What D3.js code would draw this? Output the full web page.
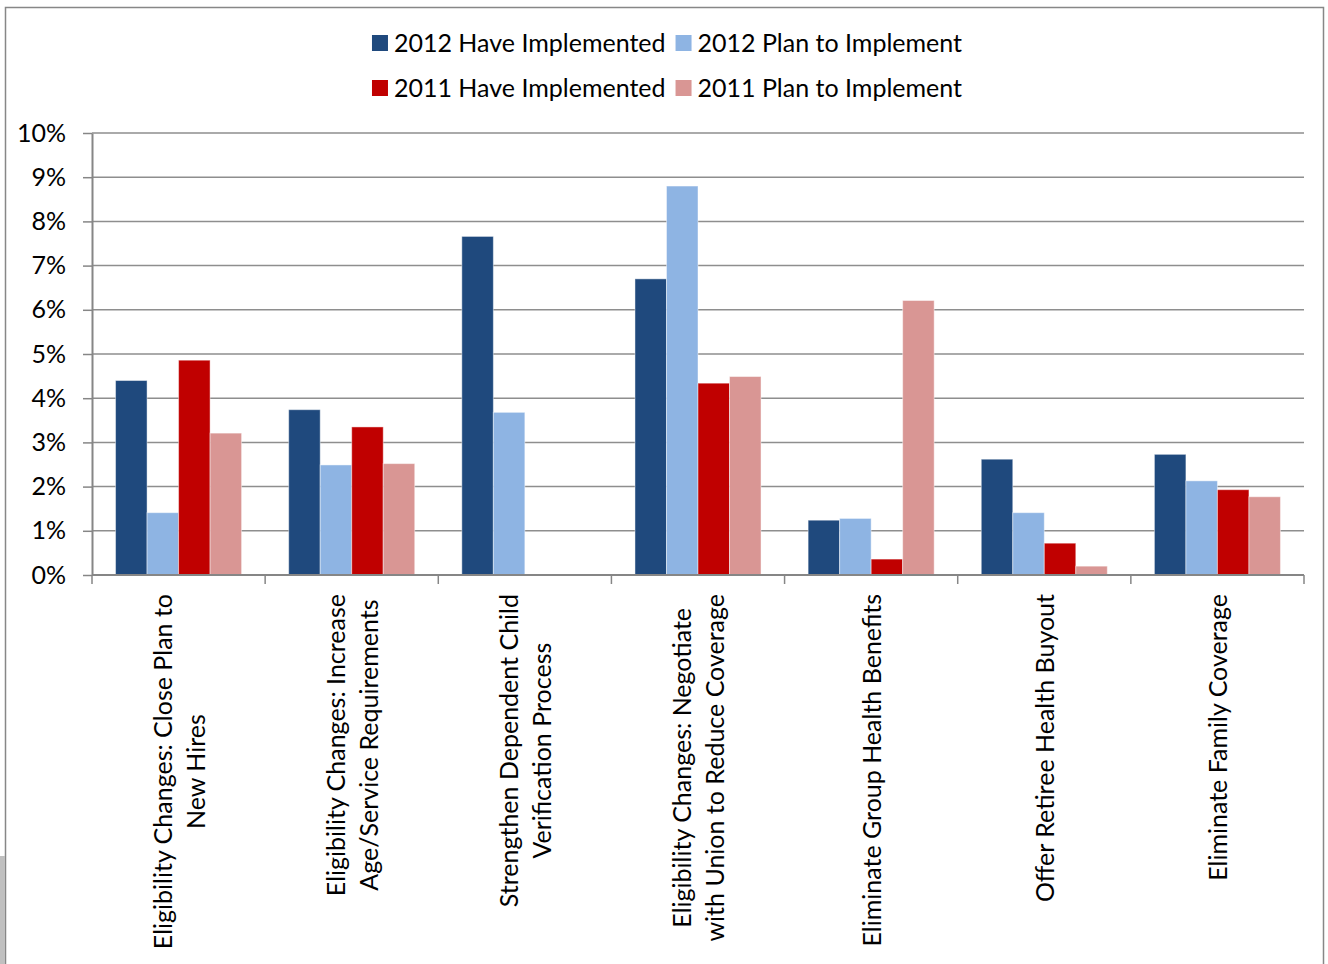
<!DOCTYPE html>
<html>
<head>
<meta charset="utf-8">
<script src="https://cdn.jsdelivr.net/npm/d3@7"></script>
<style>
  html, body { margin: 0; padding: 0; background: #fff; }
  svg { display: block; font-family: Lato, "Open Sans", sans-serif; }
</style>
</head>
<body>
<div id="graphicContainer"></div>
<script>

// categories, one array of lines per label
const categories = [
  ["Eligibility Changes: Close Plan to", "New Hires"],
  ["Eligibility Changes: Increase", "Age/Service Requirements"],
  ["Strengthen Dependent Child", "Verification Process"],
  ["Eligibility Changes: Negotiate", "with Union to Reduce Coverage"],
  ["Eliminate Group Health Benefits"],
  ["Offer Retiree Health  Buyout"],
  ["Eliminate Family Coverage"]
]

const seriesNames = ["2012 Have Implemented", "2012 Plan to Implement", "2011 Have Implemented", "2011 Plan to Implement"]
const seriesColors = ["#1f497d", "#8eb4e3", "#c00000", "#d99694"]

// values in percent
const have2012 = [4.40, 3.74, 7.66, 6.70, 1.24, 2.62, 2.73]
const plan2012 = [1.41, 2.49, 3.68, 8.80, 1.28, 1.41, 2.13]
const have2011 = [4.86, 3.35, 0, 4.34, 0.36, 0.72, 1.93]
const plan2011 = [3.21, 2.52, 0, 4.49, 6.21, 0.20, 1.77]

const yTicks = [0, 1, 2, 3, 4, 5, 6, 7, 8, 9, 10]

const seriesValues = [have2012, plan2012, have2011, plan2011]

const width = 1328
const height = 964
const fontSize = 25

const plot = { left: 92, right: 1304, top: 133, bottom: 575 }

const svg = d3.select("#graphicContainer")
  .append("svg")
  .attr("width", width)
  .attr("height", height)

svg.append("rect")
  .attr("width", width)
  .attr("height", height)
  .attr("fill", "#fff")

// frame
svg.append("rect")
  .attr("x", 5.5)
  .attr("y", 7.5)
  .attr("width", 1318)
  .attr("height", 1000)
  .attr("fill", "none")
  .attr("stroke", "#878787")
  .attr("stroke-width", 1.5)

svg.append("rect")
  .attr("x", 0)
  .attr("y", 856)
  .attr("width", 5)
  .attr("height", 108)
  .attr("fill", "#c0c0c0")

const catIdx = d3.range(categories.length)

const x0 = d3.scaleBand()
  .domain(catIdx)
  .range([plot.left, plot.right])
  .paddingInner(0)
  .paddingOuter(0)

const groupPad = x0.bandwidth() * 0.136

const x1 = d3.scaleBand()
  .domain(d3.range(seriesNames.length))
  .range([groupPad, x0.bandwidth() - groupPad])

const y = d3.scaleLinear()
  .domain([0, 10])
  .range([plot.bottom, plot.top])

// gridlines
svg.append("g")
  .selectAll("line")
  .data(yTicks.filter(d => d > 0))
  .enter()
  .append("line")
  .attr("x1", plot.left)
  .attr("x2", plot.right)
  .attr("y1", d => y(d))
  .attr("y2", d => y(d))
  .attr("stroke", "#8e8e8e")
  .attr("stroke-width", 1.5)

// bars
const table = []
catIdx.forEach(c => {
  seriesValues.forEach((vals, s) => {
    table.push({ c: c, s: s, v: vals[c] })
  })
})

svg.append("g")
  .selectAll("rect")
  .data(table.filter(d => d.v > 0))
  .enter()
  .append("rect")
  .attr("x", d => x0(d.c) + x1(d.s))
  .attr("width", x1.bandwidth())
  .attr("y", d => y(d.v))
  .attr("height", d => y(0) - y(d.v))
  .attr("fill", d => seriesColors[d.s])
  .attr("stroke", "#fff")
  .attr("stroke-opacity", 0.45)
  .attr("stroke-width", 1)

// y axis
const yAxis = svg.append("g")
  .attr("transform", `translate(${plot.left},0)`)
  .call(d3.axisLeft(y)
    .tickValues(yTicks)
    .tickSize(9)
    .tickSizeOuter(0)
    .tickPadding(17)
    .tickFormat(d => d + "%"))

yAxis.select(".domain").attr("stroke", "#868686").attr("stroke-width", 2)
yAxis.selectAll(".tick line").attr("stroke", "#868686").attr("stroke-width", 1.5)
yAxis.selectAll(".tick text")
  .attr("fill", "#000")
  .style("font-size", fontSize + "px")
  .style("font-family", "Lato, sans-serif")

// x axis with ticks on category boundaries
const bounds = d3.range(categories.length + 1).map(i => plot.left + i * x0.bandwidth())

const xAxis = svg.append("g")
xAxis.append("line")
  .attr("x1", plot.left)
  .attr("x2", plot.right)
  .attr("y1", plot.bottom)
  .attr("y2", plot.bottom)
  .attr("stroke", "#868686")
  .attr("stroke-width", 2)

xAxis.selectAll(".xtick")
  .data(bounds)
  .enter()
  .append("line")
  .attr("class", "xtick")
  .attr("x1", d => d)
  .attr("x2", d => d)
  .attr("y1", plot.bottom)
  .attr("y2", plot.bottom + 9)
  .attr("stroke", "#868686")
  .attr("stroke-width", 1.5)

// category labels, rotated, lines centred on each other
const lineGap = 33
const labelTop = 594

catIdx.forEach(c => {
  const lines = categories[c]
  const cx = x0(c) + x0.bandwidth() / 2 + 1
  const g = svg.append("g")

  const texts = lines.map((ln, i) => {
    const off = (i - (lines.length - 1) / 2) * lineGap
    return g.append("text")
      .attr("x", 0)
      .attr("y", 0)
      .attr("dy", "0.35em")
      .attr("text-anchor", "middle")
      .style("font-size", fontSize + "px")
      .attr("fill", "#000")
      .attr("data-off", off)
      .text(ln)
  })

  const maxW = d3.max(texts, t => t.node().getComputedTextLength())
  const cy = labelTop + maxW / 2

  texts.forEach(t => {
    const off = +t.attr("data-off")
    t.attr("transform", `translate(${cx + off},${cy}) rotate(-90)`)
  })
})

// legend, two rows
const legend = svg.append("g")
const sq = 16
const rowY = [43, 88]
const textGap = 6
const colGap = 10

const legendTexts = seriesNames.map((name, i) => {
  return legend.append("text")
    .attr("dy", "0.35em")
    .style("font-size", fontSize + "px")
    .attr("fill", "#000")
    .text(name)
})

const col1W = d3.max([0, 2], i => legendTexts[i].node().getComputedTextLength())
const col2W = d3.max([1, 3], i => legendTexts[i].node().getComputedTextLength())
const totalW = sq + textGap + col1W + colGap + sq + textGap + col2W
const startX = 667 - totalW / 2
const colX = [startX, startX + sq + textGap + col1W + colGap]

seriesNames.forEach((name, i) => {
  const col = i % 2
  const row = Math.floor(i / 2)
  legend.append("rect")
    .attr("x", colX[col])
    .attr("y", rowY[row] - sq / 2)
    .attr("width", sq)
    .attr("height", sq)
    .attr("fill", seriesColors[i])
  legendTexts[i]
    .attr("x", colX[col] + sq + textGap)
    .attr("y", rowY[row])
})

</script>
</body>
</html>
